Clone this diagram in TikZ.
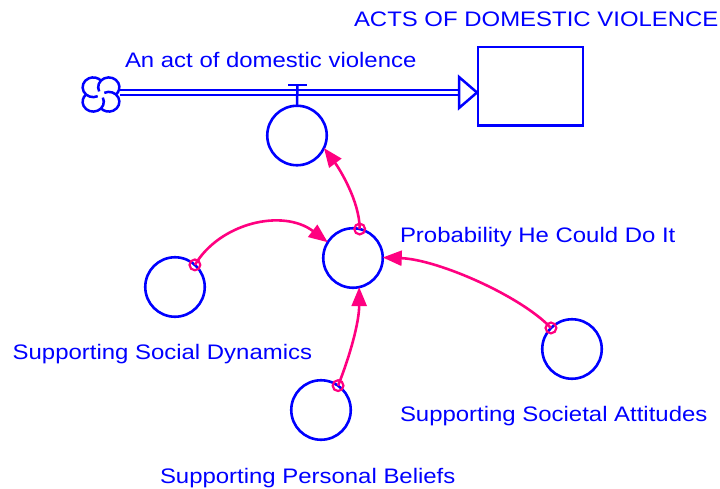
\documentclass[tikz,border=0pt]{standalone}
\usepackage{fontspec}
\setmainfont{Liberation Sans}[FakeStretch=1.14]
\usetikzlibrary{arrows.meta}
\definecolor{flowblue}{RGB}{0,0,255}
\definecolor{linkpink}{RGB}{255,0,128}
\tikzset{
  lbl/.style={text=flowblue, inner sep=0pt, outer sep=0pt, anchor=base west,
    font=\fontsize{21pt}{24pt}\selectfont},
  auxvar/.style={circle, draw=flowblue, line width=2.6pt, minimum size=59.5pt,
    inner sep=0pt, outer sep=0pt},
  stockbox/.style={rectangle, draw=flowblue, line width=2.6pt,
    minimum width=105pt, minimum height=78.5pt, inner sep=0pt, outer sep=0pt},
  pipe/.style={draw=flowblue, line width=2.6pt, double=white, double distance=2.5pt},
  link/.style={draw=linkpink, line width=2.6pt,
    -{Triangle[length=19pt,width=15pt]}},
  linkdot/.style={draw=linkpink, line width=2.2pt},
}
\begin{document}
\begin{tikzpicture}[x=1pt,y=-1pt]
\path[use as bounding box] (0,0) rectangle (720,488);

% stock and its flow
\node[stockbox] (stock) at (530.5,86.2) {};
\coordinate (cloud) at (101,94.5);
\coordinate (pipeend) at (460,92.5);
\coordinate (tip) at (477,92.5);

% source cloud: four lobes in a pinwheel
\begin{scope}[shift={(cloud)}, y=0.93pt, draw=flowblue, line width=2.5pt]
  \foreach \a in {45,135,225,315}{
    \draw ([shift={(\a:11)}]\a+160:10.6) arc[start angle=\a+160, delta angle=-255, radius=10.6];
  }
\end{scope}
\coordinate (cloudeast) at (120,92.5);

\draw[pipe] (cloudeast) -- (pipeend);
\draw[draw=flowblue, fill=white, line width=2.5pt, line join=miter]
  (459,77) -- (tip) -- (459,108) -- cycle;

% auxiliary variables
\node[auxvar] (rate) at (297,135.5) {};
\node[auxvar] (prob) at (353,258) {};
\node[auxvar] (social) at (175,287) {};
\node[auxvar] (beliefs) at (321,410) {};
\node[auxvar] (societal) at (572,349) {};

% valve on the pipe
\coordinate (valve) at (297.5,85);
\draw[flowblue, line width=2.5pt] (288,85) -- (307,85);
\draw[flowblue, line width=2.5pt] (valve) -- (rate.north);

% labels
\node[lbl] (lstock) at (354,26) {ACTS OF DOMESTIC VIOLENCE};
\node[lbl] (lflow) at (125,67.3) {An act of domestic violence};
\node[lbl] (lprob) at (400,242) {Probability He Could Do It};
\node[lbl] (lsocial) at (12.7,359.3) {Supporting Social Dynamics};
\node[lbl] (lbeliefs) at (160,483) {Supporting Personal Beliefs};
\node[lbl] (lsocietal) at (400,421) {Supporting Societal Attitudes};

% causal links
\draw[link] (prob.77) .. controls +(0,-28) and +(15,20) .. (rate.-25);
\draw[link] (social.48) .. controls +(25,-42) and +(-45,-34) .. (prob.148);
\draw[link] (beliefs.55) .. controls +(12,-30) and +(0,35) .. (prob.-78);
\draw[link] (societal.135) .. controls +(-30,-32) and +(55,2) .. (prob.1);

\draw[linkdot] (prob.77) circle[radius=5.4];
\draw[linkdot] (social.48) circle[radius=5.4];
\draw[linkdot] (beliefs.55) circle[radius=5.4];
\draw[linkdot] (societal.135) circle[radius=5.4];
\end{tikzpicture}
\end{document}
